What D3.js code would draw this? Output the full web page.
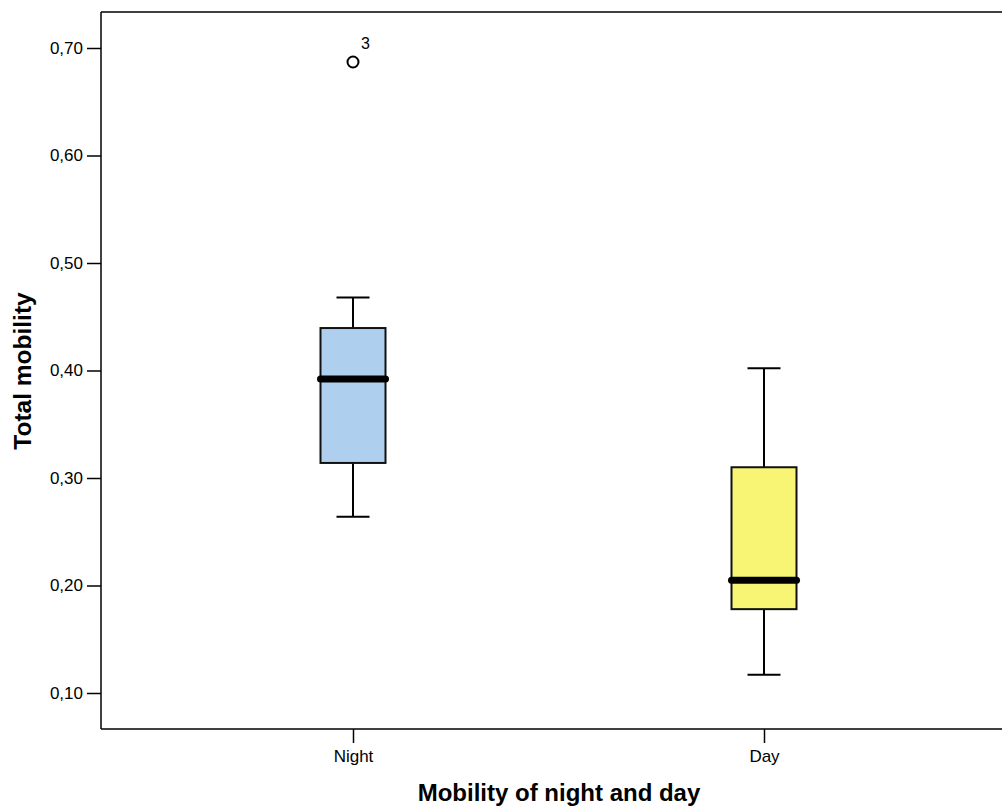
<!DOCTYPE html>
<html>
<head>
<meta charset="utf-8">
<script src="https://cdn.jsdelivr.net/npm/d3@7"></script>
<style>
body { margin: 0; background: #fff; }
text { font-family: "Liberation Sans", Arial, sans-serif; fill: #000; }
</style>
</head>
<body>
<div id="chart"></div>
<script>
// categories and box statistics
var categories = ["Night", "Day"];
var whiskerLow = [0.264, 0.117];
var q1 = [0.314, 0.178];
var median = [0.392, 0.205];
var q3 = [0.4395, 0.310];
var whiskerHigh = [0.468, 0.402];
var fills = ["#aed0ee", "#f8f574"];
var outliers = [{cat: "Night", value: 0.687, label: "3"}];
var yTicks = [0.1, 0.2, 0.3, 0.4, 0.5, 0.6, 0.7];

var width = 1002, height = 807;
var plotLeft = 101, plotTop = 12, plotBottom = 729, plotRight = 1002;

var svg = d3.select("#chart").append("svg")
    .attr("width", width)
    .attr("height", height);

var x = d3.scalePoint()
    .domain(categories)
    .range([353, 764]);

var y = d3.scaleLinear()
    .domain([0.1, 0.7])
    .range([693, 48]);

var fmt = function(d) { return d3.format(".2f")(d).replace(".", ","); };

// frame top line
svg.append("line")
    .attr("x1", plotLeft).attr("x2", plotRight)
    .attr("y1", plotTop).attr("y2", plotTop)
    .attr("stroke", "#000").attr("stroke-width", 1.5);

var yAxis = d3.axisLeft(y)
    .tickValues(yTicks)
    .tickFormat(fmt)
    .tickSize(14)
    .tickPadding(4);

var gy = svg.append("g")
    .attr("transform", "translate(" + plotLeft + ",0)")
    .call(yAxis);
gy.select(".domain").remove();
gy.selectAll(".tick line").attr("stroke", "#000").attr("stroke-width", 1.5);
gy.selectAll(".tick text")
    .style("font-size", "17px")
    .style("font-family", "'Liberation Sans', Arial, sans-serif");
svg.append("line")
    .attr("x1", plotLeft).attr("x2", plotLeft)
    .attr("y1", plotTop).attr("y2", plotBottom)
    .attr("stroke", "#000").attr("stroke-width", 1.5);

var xAxis = d3.axisBottom(x)
    .tickSize(14)
    .tickPadding(7);

var gx = svg.append("g")
    .attr("transform", "translate(0," + plotBottom + ")")
    .call(xAxis);
gx.select(".domain").remove();
gx.selectAll(".tick line").attr("stroke", "#000").attr("stroke-width", 1.5);
gx.selectAll(".tick text")
    .style("font-size", "17px")
    .style("font-family", "'Liberation Sans', Arial, sans-serif");
svg.append("line")
    .attr("x1", plotLeft).attr("x2", plotRight)
    .attr("y1", plotBottom).attr("y2", plotBottom)
    .attr("stroke", "#000").attr("stroke-width", 1.5);

// boxes
var boxW = 65, capW = 33;
var data = categories.map(function(c, i) {
    return {cat: c, lo: whiskerLow[i], q1: q1[i], med: median[i], q3: q3[i], hi: whiskerHigh[i], fill: fills[i]};
});

var g = svg.selectAll(".box")
    .data(data)
    .enter().append("g")
    .attr("class", "box");

// whisker stems
g.append("line")
    .attr("x1", function(d) { return x(d.cat); })
    .attr("x2", function(d) { return x(d.cat); })
    .attr("y1", function(d) { return y(d.hi); })
    .attr("y2", function(d) { return y(d.q3); })
    .attr("stroke", "#000").attr("stroke-width", 2);
g.append("line")
    .attr("x1", function(d) { return x(d.cat); })
    .attr("x2", function(d) { return x(d.cat); })
    .attr("y1", function(d) { return y(d.q1); })
    .attr("y2", function(d) { return y(d.lo); })
    .attr("stroke", "#000").attr("stroke-width", 2);

// caps
["hi", "lo"].forEach(function(k) {
    g.append("line")
        .attr("x1", function(d) { return x(d.cat) - capW / 2; })
        .attr("x2", function(d) { return x(d.cat) + capW / 2; })
        .attr("y1", function(d) { return y(d[k]); })
        .attr("y2", function(d) { return y(d[k]); })
        .attr("stroke", "#000").attr("stroke-width", 2);
});

g.append("rect")
    .attr("x", function(d) { return x(d.cat) - boxW / 2; })
    .attr("width", boxW)
    .attr("y", function(d) { return y(d.q3); })
    .attr("height", function(d) { return y(d.q1) - y(d.q3); })
    .attr("fill", function(d) { return d.fill; })
    .attr("stroke", "#111").attr("stroke-width", 2);

g.append("line")
    .attr("x1", function(d) { return x(d.cat) - boxW / 2; })
    .attr("x2", function(d) { return x(d.cat) + boxW / 2; })
    .attr("y1", function(d) { return y(d.med); })
    .attr("y2", function(d) { return y(d.med); })
    .attr("stroke", "#000").attr("stroke-width", 7)
    .attr("stroke-linecap", "round");

// outliers
svg.selectAll(".outlier")
    .data(outliers)
    .enter().append("circle")
    .attr("class", "outlier")
    .attr("cx", function(d) { return x(d.cat); })
    .attr("cy", function(d) { return y(d.value); })
    .attr("r", 5.5)
    .attr("fill", "#fff")
    .attr("stroke", "#000").attr("stroke-width", 2);

svg.selectAll(".outlier-label")
    .data(outliers)
    .enter().append("text")
    .attr("x", function(d) { return x(d.cat) + 8; })
    .attr("y", function(d) { return y(d.value) - 13; })
    .style("font-size", "16px")
    .text(function(d) { return d.label; });

// axis titles
svg.append("text")
    .attr("transform", "translate(31,371) rotate(-90)")
    .attr("text-anchor", "middle")
    .style("font-size", "24.5px")
    .style("font-weight", "bold")
    .text("Total mobility");

svg.append("text")
    .attr("x", 559)
    .attr("y", 801)
    .attr("text-anchor", "middle")
    .style("font-size", "24px")
    .style("font-weight", "bold")
    .text("Mobility of night and day");
</script>
</body>
</html>
